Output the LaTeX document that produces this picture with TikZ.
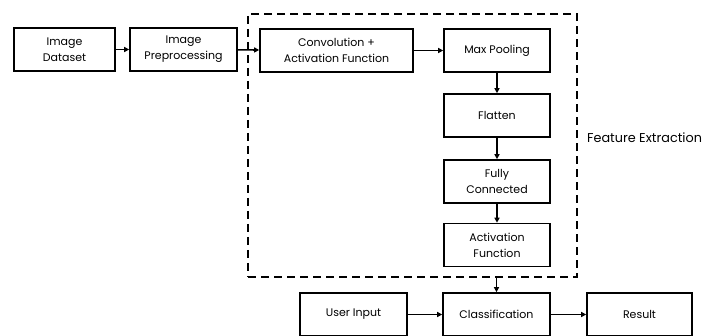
\documentclass[tikz,border=0pt]{standalone}
\usepackage{fontspec}
\setmainfont{Poppins}
\usetikzlibrary{arrows.meta, positioning}

\begin{document}
\begin{tikzpicture}[
        x=1pt, y=-1pt,
        box/.style={rectangle, draw=black, line width=1.6pt,
                    minimum width=106pt, minimum height=43pt,
                    align=center, font=\fontsize{11}{16}\selectfont, inner sep=2pt},
        arrow/.style={-{Triangle[length=5pt, width=5pt]}, line width=1.6pt},
    ]
    \useasboundingbox (0,0) rectangle (705,336);

    % ====== input side ======
    \node[box, minimum width=101pt] (data) at (64.5, 49.5) {Image\\Dataset};
    \node[box, minimum width=107pt] (prep) at (183.5, 49.5) {Image\\Preprocessing};

    % ====== feature extraction ======
    \node[draw, dashed, dash pattern=on 8pt off 5pt, line width=1.6pt,
          minimum width=329pt, minimum height=263pt, inner sep=0pt] (fe) at (412.5, 145.5) {};
    \node[anchor=west, inner sep=0pt, font=\fontsize{12.8}{16}\selectfont] (felabel) at (587, 138) {Feature Extraction};

    \node[box, minimum width=153pt] (conv) at (336.5, 50.5) {Convolution +\\Activation Function};
    \node[box] (pool) at (497, 50.5) {Max Pooling};
    \node[box] (flat) at (497, 115.5) {Flatten};
    \node[box] (fc) at (497, 181.5) {Fully\\Connected};
    \node[box] (act) at (497, 245) {Activation\\Function};

    % ====== output side ======
    \node[box, minimum width=107pt] (user) at (353.5, 314.5) {User Input};
    \node[box, minimum width=107pt] (cls) at (496.5, 314.5) {Classification};
    \node[box, minimum width=105pt] (res) at (639.5, 314.5) {Result};

    % ====== arrows ======
    \draw[arrow] (data) -- (prep);
    \draw[arrow] (prep) -- (conv);
    \draw[arrow] (conv) -- (pool);
    \draw[arrow] (pool) -- (flat);
    \draw[arrow] (flat) -- (fc);
    \draw[arrow] (fc) -- (act);
    \draw[arrow] (fe.south -| cls.north) -- (cls.north);
    \draw[arrow] (user) -- (cls);
    \draw[arrow] (cls) -- (res);

\end{tikzpicture}
\end{document}
